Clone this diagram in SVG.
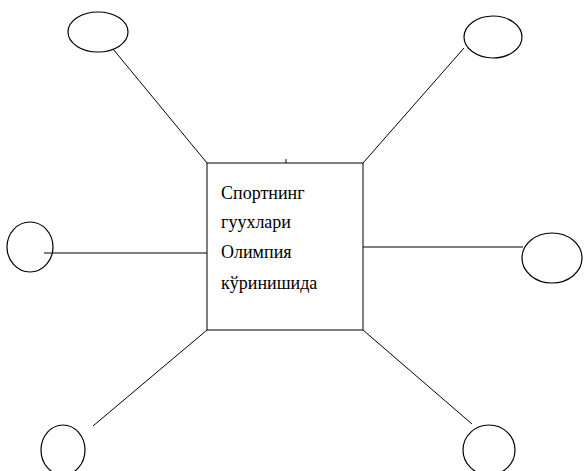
<svg xmlns="http://www.w3.org/2000/svg" width="584" height="471" viewBox="0 0 584 471">
<style>
.n{fill:none;stroke:#000;stroke-width:1.2}
.c{stroke:#000;stroke-width:1;fill:none}
.t{font-family:"Liberation Serif",serif;font-size:18px;fill:#000}
</style>
<rect width="584" height="471" fill="#fff"/>
<g id="connectors">
<line class="c" x1="113" y1="49" x2="207" y2="163"/>
<line class="c" x1="464" y1="48" x2="363" y2="163"/>
<line class="c" x1="44" y1="253" x2="207" y2="253"/>
<line class="c" x1="363" y1="247" x2="523" y2="247"/>
<line class="c" x1="93" y1="426" x2="207" y2="330"/>
<line class="c" x1="472" y1="424" x2="363" y2="330"/>
<line class="c" x1="286" y1="159" x2="286" y2="163"/>
</g>
<g id="center">
<rect class="c" x="207" y="163" width="156" height="167"/>
<text class="t" x="221" y="199">Спортнинг</text>
<text class="t" x="221" y="228">гуухлари</text>
<text class="t" x="221" y="258">Олимпия</text>
<text class="t" x="221" y="289">кўринишида</text>
</g>
<g id="n1"><ellipse class="n" cx="98" cy="32" rx="30" ry="20"/></g>
<g id="n2"><ellipse class="n" cx="493" cy="37" rx="29" ry="21"/></g>
<g id="n3"><ellipse class="n" cx="30" cy="247" rx="23" ry="25"/></g>
<g id="n4"><ellipse class="n" cx="552" cy="258" rx="30" ry="25"/></g>
<g id="n5"><ellipse class="n" cx="63" cy="450" rx="22" ry="25"/></g>
<g id="n6"><ellipse class="n" cx="489" cy="450" rx="26" ry="25"/></g>
</svg>
